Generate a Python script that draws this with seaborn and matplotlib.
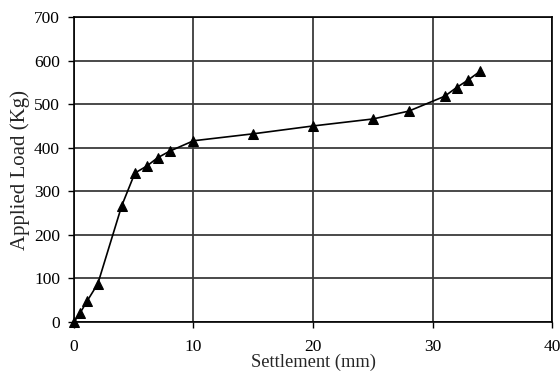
import numpy as np
import pandas as pd
import seaborn as sns
import matplotlib.pyplot as plt

# load-settlement readings
settlement = [0, 0.5, 1.1, 2, 4, 5.1, 6.1, 7, 8, 10, 15, 20, 25, 28, 31, 32, 33, 34]
load = [0, 20, 48, 88, 267, 342, 358, 377, 392, 416, 432, 450, 466, 484, 518, 538, 556, 576]

df = pd.DataFrame({"settlement": settlement, "load": load})

sns.set_style("ticks")
plt.rcParams['font.family'] = ['Liberation Serif', 'DejaVu Serif']

fig = plt.figure(figsize=(5.6, 3.78), dpi=100)
ax = fig.add_subplot(1, 1, 1)
sns.lineplot(data=df, x="settlement", y="load", ax=ax, color="black",
             linewidth=1.2, marker="^", markersize=7, markeredgecolor="black",
             sort=False, clip_on=False, zorder=5)

ax.set_xlim(0, 40)
ax.set_ylim(0, 700)
ax.set_xticks([0, 10, 20, 30, 40])
ax.set_yticks([0, 100, 200, 300, 400, 500, 600, 700])
ax.grid(True, color="#3a3a3a", linewidth=1.3)
ax.set_axisbelow(True)
for s in ax.spines.values():
    s.set_visible(True)
    s.set_color("black")
    s.set_linewidth(1.2)
ax.tick_params(axis="both", labelsize=12.5, length=4, width=1, colors="black")
ax.tick_params(axis="x", pad=8)
ax.tick_params(axis="y", pad=6)
ax.set_xlabel("Settlement (mm)", fontsize=13.3, labelpad=-1)
ax.set_ylabel("Applied Load (Kg)", fontsize=15, labelpad=3)

plt.subplots_adjust(left=0.132, right=0.986, bottom=0.148, top=0.955)
plt.savefig("out.png", dpi=100)
